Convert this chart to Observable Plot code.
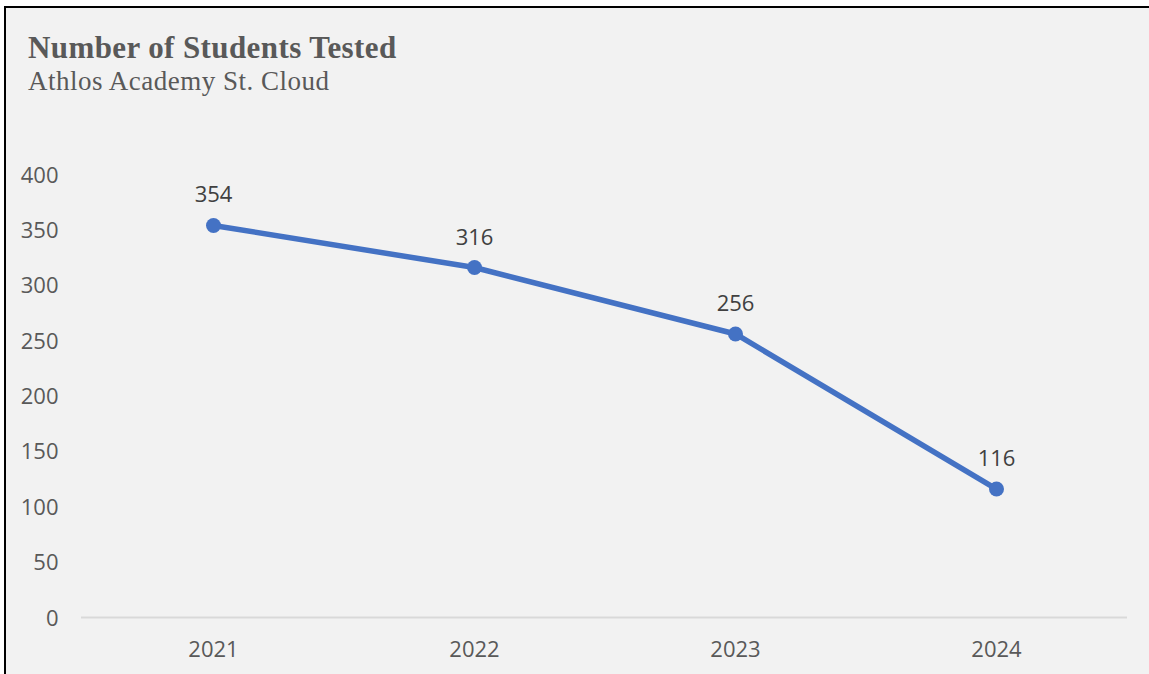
<!DOCTYPE html>
<html>
<head>
<meta charset="utf-8">
<script src="https://cdn.jsdelivr.net/npm/d3@7"></script>
<script src="https://cdn.jsdelivr.net/npm/@observablehq/plot@0.6"></script>
<style>
  html, body { margin: 0; padding: 0; background: #ffffff; width: 1149px; height: 674px; overflow: hidden; }
  #frame { position: absolute; left: 4px; top: 6px; width: 1145px; height: 668px; box-sizing: border-box;
           background: #f2f2f2; border-top: 2px solid #000; border-left: 2px solid #000; }
  #title { position: absolute; left: 28px; top: 31px; font-family: "Liberation Serif", "Times New Roman", serif;
           font-weight: bold; font-size: 31px; letter-spacing: 0.4px; color: #595959; line-height: 34px; white-space: nowrap; }
  #subtitle { position: absolute; left: 28px; top: 65px; font-family: "Liberation Serif", "Times New Roman", serif;
           font-size: 27px; letter-spacing: 0.5px; color: #595959; line-height: 32px; white-space: nowrap; }
  #chart { position: absolute; left: 0; top: 0; }
</style>
</head>
<body>
<div id="frame"></div>
<div id="title">Number of Students Tested</div>
<div id="subtitle">Athlos Academy St. Cloud</div>
<div id="chart"></div>
<script>
const years = ["2021", "2022", "2023", "2024"];
const tested = [354, 316, 256, 116];
const yTicks = [0, 50, 100, 150, 200, 250, 300, 350, 400];

const data = years.map((year, i) => ({year, value: tested[i]}));

const chart = Plot.plot({
  width: 1149,
  height: 674,
  marginLeft: 81,
  marginRight: 22,
  marginTop: 174,
  marginBottom: 57,
  style: {background: "transparent", fontFamily: "'Open Sans', sans-serif", fontSize: "22px", color: "#595959", overflow: "visible"},
  x: {type: "point", domain: years, padding: 0.5, label: null},
  y: {domain: [0, 400], label: null},
  marks: [
    Plot.ruleY([0], {stroke: "#d9d9d9", strokeWidth: 2}),
    Plot.axisY(yTicks, {tickSize: 0, tickPadding: 23, fill: "#595959", fontSize: 22, label: null, dy: 1}),
    Plot.axisX({tickSize: 0, tickPadding: 24, fill: "#595959", fontSize: 22, label: null}),
    Plot.line(data, {x: "year", y: "value", stroke: "#4472c4", strokeWidth: 5.5}),
    Plot.dot(data, {x: "year", y: "value", r: 7.5, fill: "#4472c4", stroke: "none"}),
    Plot.text(data, {x: "year", y: "value", text: d => String(d.value), dy: -30, fill: "#404040", fontSize: 22})
  ]
});
document.getElementById("chart").appendChild(chart);
</script>
</body>
</html>
